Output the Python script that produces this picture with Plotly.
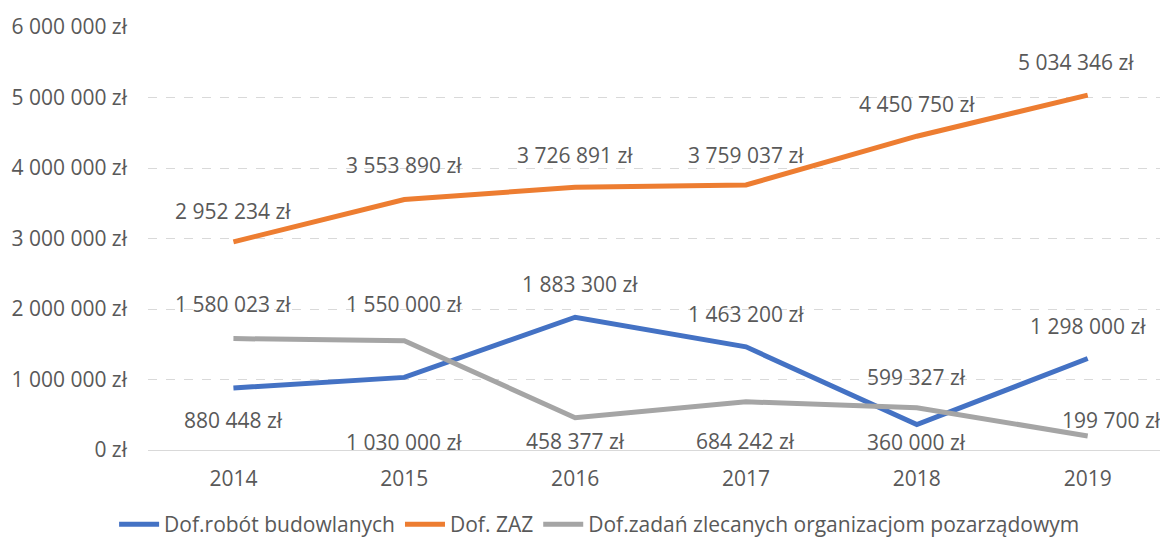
import plotly.graph_objects as go

years = ["2014", "2015", "2016", "2017", "2018", "2019"]
budowlane = [880448, 1030000, 1883300, 1463200, 360000, 1298000]
zaz = [2952234, 3553890, 3726891, 3759037, 4450750, 5034346]
ngo = [1580023, 1550000, 458377, 684242, 599327, 199700]

names = ["Dof.robót budowlanych", "Dof. ZAZ", "Dof.zadań zlecanych organizacjom pozarządowym"]
colors = ["#4472C4", "#ED7D31", "#A5A5A5"]
series = [budowlane, zaz, ngo]

# label offsets in pixels (style only)
label_dy = [
    [-32, -65, 33, 33, -17, 32],
    [31, 34, 32, 30, 32, 33],
    [35, 37, -23, -39, 31, 16],
]
label_dx = [
    [0, 0, 5, 0, 0, 0],
    [0, 0, 0, 0, 0, -12],
    [0, 0, 0, 0, 0, 24],
]

FONT = "Open Sans"
TXT = "#595959"
FS = 21

def fmt(v):
    return f"{v:,}".replace(",", " ") + " zł"

fig = go.Figure()
for name, col, vals in zip(names, colors, series):
    fig.add_trace(go.Scatter(x=years, y=vals, name=name, mode="lines",
                             line=dict(color=col, width=5)))

annotations = []
for vals, dys, dxs in zip(series, label_dy, label_dx):
    for i, (v, dy, dx) in enumerate(zip(vals, dys, dxs)):
        # category index position on the category axis
        annotations.append(dict(x=i, y=v, xref="x", yref="y", text=fmt(v), showarrow=False,
                                yshift=dy, xshift=dx,
                                font=dict(family=FONT, size=FS, color=TXT)))

fig.update_layout(
    width=1160, height=537,
    margin=dict(l=140, r=0, t=19, b=95),
    plot_bgcolor="white", paper_bgcolor="white",
    separators=", ",
    font=dict(family=FONT, size=FS, color=TXT),
    annotations=annotations,
    showlegend=True,
    legend=dict(orientation="h", xref="container", yref="container", x=0.51, xanchor="center",
                y=0.0, yanchor="bottom", font=dict(family=FONT, size=FS, color=TXT),
                itemwidth=40),
    xaxis=dict(type="category", categoryorder="array", categoryarray=years,
               range=[-0.5, 5.47], showgrid=False, showline=False, ticks="", ticklabelstandoff=14,
               tickfont=dict(family=FONT, size=FS, color=TXT)),
    yaxis=dict(range=[0, 6000000], dtick=1000000, tickformat=",d", ticksuffix=" zł",
               showgrid=True, gridcolor="#D9D9D9", griddash="dash", gridwidth=1.3,
               zeroline=True, zerolinecolor="#D9D9D9", zerolinewidth=1.3,
               showline=False, ticks="", ticklabelstandoff=20,
               tickfont=dict(family=FONT, size=FS, color=TXT)),
)

fig.write_html("out.html")
